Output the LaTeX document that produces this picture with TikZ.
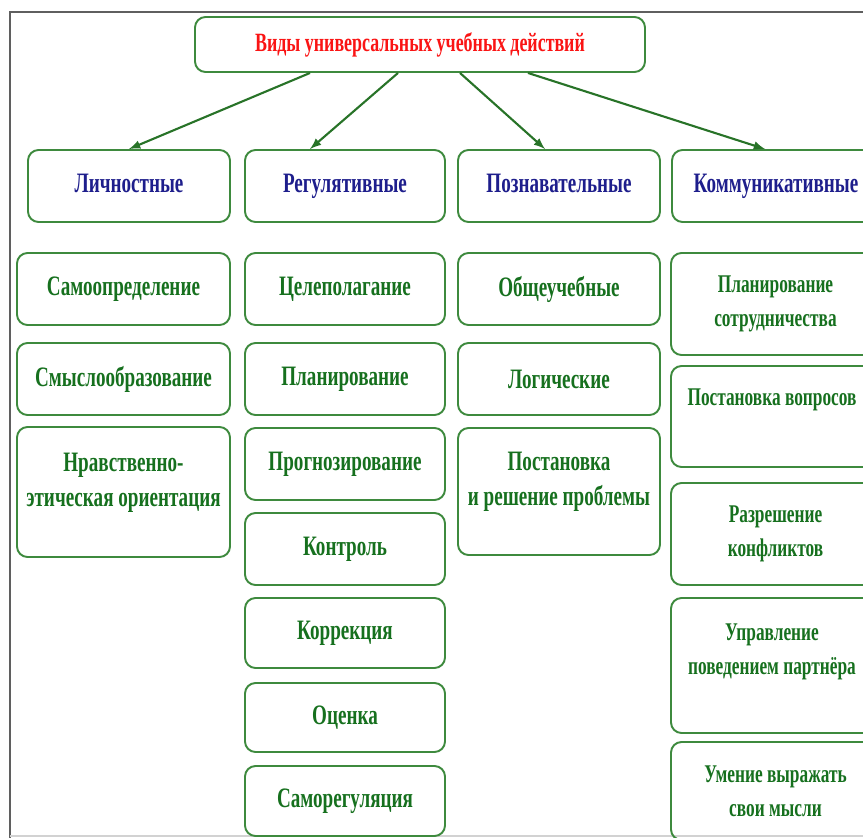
\documentclass[tikz,border=0pt]{standalone}
\usepackage{fontspec}
\setmainfont{Liberation Serif}[FakeStretch=0.68]
\definecolor{boxgreen}{RGB}{62,138,62}
\definecolor{arrowgreen}{RGB}{40,115,40}
\definecolor{itemgreen}{RGB}{22,112,30}
\definecolor{headblue}{RGB}{30,30,140}
\definecolor{titlered}{RGB}{250,20,20}
\definecolor{framegray}{RGB}{95,95,95}

\begin{document}
\begin{tikzpicture}[x=0.02cm, y=-0.02cm, box/.style={draw=boxgreen, line width=1.1pt, rounded corners=6pt, align=center, inner sep=1pt}, bw/.style={minimum width=#1*0.02cm}, bh/.style={minimum height=#1*0.02cm}, head/.style={box, text=headblue, text height=11pt, text depth=4pt, font=\fontsize{16}{20}\selectfont\bfseries}, item/.style={box, text=itemgreen, font=\fontsize{16}{20}\selectfont\bfseries}, comm/.style={item, font=\fontsize{14.5}{19.5}\selectfont\bfseries}, txt/.style={align=center, text=itemgreen, font=\fontsize{16}{20}\selectfont\bfseries}, n/.style={-latex, line width=1.2pt, color=arrowgreen}]
            \useasboundingbox (0,0) rectangle (863,838);
            % frame
            \draw[framegray, line width=1.5pt] (10,838) -- (10,12) -- (863,12);
            \draw[gray!35, line width=1pt] (10,836) -- (863,836);
            % title and groups
            \node[box, bw=450, bh=55, text=titlered, font=\fontsize{15}{18}\selectfont\bfseries] (vidy) at (420,44.5) {Виды универсальных учебных действий};
            \node[head, bw=202, bh=72] (lich) at (129,186) {Личностные};
            \node[head, bw=200, bh=72] (reg) at (345,186) {Регулятивные};
            \node[head, bw=202, bh=72] (pozn) at (559,186) {Познавательные};
            \node[head, bw=208, bh=72] (komm) at (776,186) {Коммуникативные};
            % personal
            \node[item, bw=213, bh=72] (samoopr) at (123.5,289) {Самоопределение};
            \node[item, bw=213, bh=72] (smysl) at (123.5,379) {Смыслообразование};
            \node[item, bw=213, bh=130] (nravst) at (123.5,492) {};
            \node[txt] (nravst-t) at (123.5,483) {Нравственно-\\этическая ориентация};
            % regulative
            \node[item, bw=200, bh=72] (celep) at (345,289) {Целеполагание};
            \node[item, bw=200, bh=72] (plan) at (345,379) {Планирование};
            \node[item, bw=200, bh=72] (prognoz) at (345,464) {Прогнозирование};
            \node[item, bw=200, bh=72] (kontrol) at (345,549) {Контроль};
            \node[item, bw=200, bh=70] (korr) at (345,633) {Коррекция};
            \node[item, bw=200, bh=69] (ocenka) at (345,717.5) {Оценка};
            \node[item, bw=200, bh=70] (samoreg) at (345,801) {Саморегуляция};
            % cognitive
            \node[item, bw=202, bh=72] (obshch) at (559,289) {Общеучебные};
            \node[item, bw=202, bh=72] (logich) at (559,379) {Логические};
            \node[item, bw=202, bh=127] (postan) at (559,491.5) {};
            \node[txt] (postan-t) at (559,482) {Постановка\\и решение проблемы};
            % communicative
            \node[comm, bw=209, bh=102] (plsotr) at (775.5,304) {Планирование\\сотрудничества};
            \node[comm, bw=209, bh=101] (vopr) at (775.5,416.5) {};
            \node[txt, font=\fontsize{14.5}{19.5}\selectfont\bfseries] (vopr-t) at (772,400) {Постановка вопросов};
            \node[comm, bw=209, bh=102] (konfl) at (775.5,534) {Разрешение\\конфликтов};
            \node[comm, bw=209, bh=135] (uprav) at (775.5,665.5) {};
            \node[txt, font=\fontsize{14.5}{19.5}\selectfont\bfseries] (uprav-t) at (772,652) {Управление\\поведением партнёра};
            \node[comm, bw=209, bh=98] (umen) at (775.5,791) {Умение выражать\\свои мысли};
            % edges
            \draw[n] ([xshift=-2.2cm]vidy.south) -- (lich.north);
            \draw[n] ([xshift=-0.44cm]vidy.south) -- ([xshift=-0.7cm]reg.north);
            \draw[n] ([xshift=0.8cm]vidy.south) -- ([xshift=-0.28cm]pozn.north);
            \draw[n] ([xshift=2.16cm]vidy.south) -- ([xshift=-0.22cm]komm.north);
        \end{tikzpicture}
\end{document}
